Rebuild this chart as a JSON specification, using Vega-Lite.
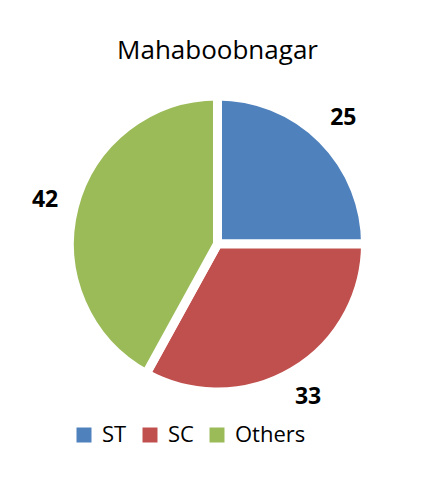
{
  "$schema": "https://vega.github.io/schema/vega-lite/v6.json",
  "width": 435,
  "height": 478,
  "autosize": {"type": "fit", "contains": "padding"},
  "padding": {"top": 38, "bottom": 58, "left": 10, "right": 10},
  "background": "#ffffff",
  "title": {
    "text": "Mahaboobnagar",
    "fontSize": 26,
    "font": "Open Sans",
    "fontWeight": "normal",
    "color": "#000000",
    "anchor": "middle",
    "offset": 4
  },
  "data": {
    "values": [
      {"category": "ST", "value": 25, "order": 1},
      {"category": "SC", "value": 33, "order": 2},
      {"category": "Others", "value": 42, "order": 3}
    ]
  },
  "encoding": {
    "theta": {"field": "value", "type": "quantitative", "stack": true},
    "order": {"field": "order", "type": "quantitative"}
  },
  "layer": [
    {
      "mark": {"type": "arc", "outerRadius": 148, "stroke": "#ffffff", "strokeWidth": 9},
      "encoding": {
        "color": {
          "field": "category",
          "type": "nominal",
          "scale": {"domain": ["ST", "SC", "Others"], "range": ["#4F81BD", "#C0504D", "#9BBB59"]},
          "legend": {
            "orient": "none",
            "legendX": 63,
            "legendY": 356,
            "direction": "horizontal",
            "title": null,
            "padding": 0,
            "symbolType": "square",
            "symbolSize": 225,
            "symbolStrokeWidth": 0,
            "labelFontSize": 22,
            "labelFont": "Open Sans",
            "labelColor": "#000000",
            "labelOffset": 7,
            "columnPadding": 12
          }
        }
      }
    },
    {
      "mark": {"type": "text", "radius": 178, "fontSize": 23, "fontWeight": "bold", "font": "Open Sans", "color": "#000000"},
      "encoding": {
        "text": {"field": "value", "type": "quantitative"}
      }
    }
  ],
  "config": {"view": {"stroke": null}}
}
